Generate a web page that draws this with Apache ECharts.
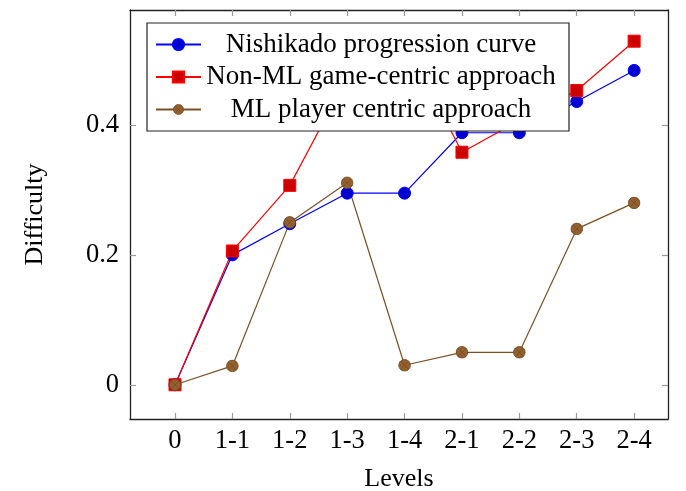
<!DOCTYPE html>
<html>
<head>
<meta charset="utf-8">
<script src="https://cdn.jsdelivr.net/npm/echarts@6/dist/echarts.min.js"></script>
<style>
html,body{margin:0;padding:0;background:#fff;}
#chart{width:686px;height:491px;}
</style>
</head>
<body>
<div id="chart"></div>
<script>
// ---- data ----
var levels = ['0', '1-1', '1-2', '1-3', '1-4', '2-1', '2-2', '2-3', '2-4'];
var nishikado = [0, 0.2, 0.248, 0.295, 0.295, 0.388, 0.388, 0.436, 0.484];
var nonML = [0, 0.206, 0.307, 0.473, 0.53, 0.358, 0.407, 0.453, 0.529];
var mlPlayer = [0, 0.029, 0.25, 0.311, 0.03, 0.05, 0.05, 0.24, 0.28];
var yTicks = [0, 0.2, 0.4];
var yTickLabels = ['0', '0.2', '0.4'];
var seriesNames = ['Nishikado progression curve', 'Non-ML game-centric approach', 'ML player centric approach'];

function pairs(arr) { return arr.map(function (v, i) { return [i, v]; }); }
var xIdx = levels.map(function (_, i) { return i; });

var otimesSvg = "<svg xmlns='http://www.w3.org/2000/svg' width='48' height='48' viewBox='0 0 48 48'>" +
  "<circle cx='24' cy='24' r='21.5' fill='#93602e' stroke='#6b4520' stroke-width='3'/>" +
  "<path d='M10 10L38 38M38 10L10 38' stroke='#6b4520' stroke-width='2.2'/></svg>";
var otimes = 'image://data:image/svg+xml;charset=utf-8,' + encodeURIComponent(otimesSvg);

var font = 'Liberation Serif';
var xMin = -0.784, xMax = 8.59;
var yMin = -0.0527, yMax = 0.577;

var chart = echarts.init(document.getElementById('chart'), null, {renderer: 'canvas'});
var tickStyle = {show: true, inside: true, length: 6, lineStyle: {color: '#999', width: 1.2}};
var frameLine = {show: true, onZero: false, lineStyle: {color: '#222', width: 1.3}};

chart.setOption({
  animation: false,
  backgroundColor: '#fff',
  grid: {left: 130, right: 18, top: 10, bottom: 72, containLabel: false, outerBoundsMode: 'none'},
  xAxis: [{
    type: 'value', min: xMin, max: xMax, position: 'bottom',
    axisLine: frameLine,
    axisTick: Object.assign({customValues: xIdx}, tickStyle),
    axisLabel: {
      customValues: xIdx, margin: 9, color: '#000', fontFamily: font, fontSize: 26.5,
      formatter: function (v) { return levels[Math.round(v)]; }
    },
    splitLine: {show: false},
    name: 'Levels', nameLocation: 'middle', nameGap: 47,
    nameTextStyle: {color: '#000', fontFamily: font, fontSize: 26}
  }, {
    type: 'value', min: xMin, max: xMax, position: 'top',
    axisLine: frameLine,
    axisTick: Object.assign({customValues: xIdx}, tickStyle),
    axisLabel: {show: false},
    splitLine: {show: false}
  }],
  yAxis: [{
    type: 'value', min: yMin, max: yMax, position: 'left',
    axisLine: frameLine,
    axisTick: Object.assign({customValues: yTicks}, tickStyle),
    axisLabel: {
      customValues: yTicks, margin: 11, color: '#000', fontFamily: font, fontSize: 26.5,
      formatter: function (v) {
        for (var i = 0; i < yTicks.length; i++) { if (Math.abs(yTicks[i] - v) < 1e-9) return yTickLabels[i]; }
        return '';
      }
    },
    splitLine: {show: false},
    name: 'Difficulty', nameLocation: 'middle', nameGap: 82, nameRotate: 90,
    nameTextStyle: {color: '#000', fontFamily: font, fontSize: 26}
  }, {
    type: 'value', min: yMin, max: yMax, position: 'right',
    axisLine: frameLine,
    axisTick: Object.assign({customValues: yTicks}, tickStyle),
    axisLabel: {show: false},
    splitLine: {show: false}
  }],
  legend: {
    orient: 'vertical', left: 147, top: 23,
    padding: [6.5, 13, 6.5, 8],
    itemWidth: 45, itemHeight: 14, itemGap: 2.5,
    backgroundColor: '#fff', borderColor: '#222', borderWidth: 1.2,
    data: seriesNames,
    formatter: function (n) { return '{c|' + n + '}'; },
    textStyle: {
      color: '#000', fontFamily: font, fontSize: 27, lineHeight: 30,
      rich: {c: {width: 350, align: 'center', fontFamily: font, fontSize: 27, lineHeight: 30, color: '#000'}}
    }
  },
  series: [{
    name: seriesNames[0], type: 'line', data: pairs(nishikado),
    symbol: 'circle', symbolSize: 12,
    itemStyle: {color: '#0000d0', borderColor: '#0000ff', borderWidth: 1},
    lineStyle: {color: '#0000ff', width: 1.2}
  }, {
    name: seriesNames[1], type: 'line', data: pairs(nonML),
    symbol: 'rect', symbolSize: 12,
    itemStyle: {color: '#cc0000', borderColor: '#ff0000', borderWidth: 1},
    lineStyle: {color: '#ff0000', width: 1.2}
  }, {
    name: seriesNames[2], type: 'line', data: pairs(mlPlayer),
    symbol: otimes, symbolSize: 13,
    itemStyle: {color: '#93602e'},
    lineStyle: {color: '#7a5025', width: 1.2}
  }]
});
</script>
</body>
</html>
